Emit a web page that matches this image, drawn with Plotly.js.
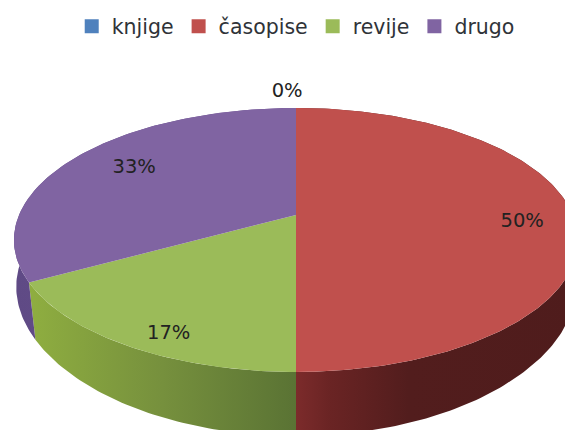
<!DOCTYPE html>
<html>
<head>
<meta charset="utf-8">
<script src="https://cdn.plot.ly/plotly-3.0.1.min.js"></script>
<style>html,body{margin:0;padding:0;background:#fff}</style>
</head>
<body>
<div id="chart" style="width:565px;height:430px"></div>
<script>
var categories = ["knjige", "časopise", "revije", "drugo"];
var values = [0, 50, 17, 33];
var topColors = ["#4F81BD", "#C0504D", "#9BBB59", "#8064A2"];
var sideStops = [
  [[0, "#3a5f8c"], [1, "#3a5f8c"]],
  [[0, "#7c2b2b"], [0.12, "#6a2424"], [0.4, "#521d1d"], [1, "#4f1c1c"]],
  [[0, "#8fae40"], [0.5, "#76903d"], [1, "#5a7334"]],
  [[0, "#5f4a85"], [1, "#6b5390"]]
];
var labelRadius = [1.185, 0.81, 0.885, 0.74];
var labelTurn = [-1.9, 3.8, -4.4, 1.4];

// perspective projection of the tilted pie
var view = {cx: 296, cy: 215, bx: 277, by: 127.3, q: 0.189, depth: 52, floorPinch: 0.05};
function project(r, deg, down) {
  var a = deg * Math.PI / 180, u = r * Math.sin(a), v = -r * Math.cos(a);
  var d = 1 - view.q * v;
  var w = down ? 1 - view.floorPinch * Math.max(v, 0) : 1;
  return [view.cx + w * view.bx * u / d, view.cy + view.by * v / d + (down ? view.depth / d : 0)];
}
var total = values.reduce(function (s, v) { return s + v; }, 0);
var sideTraces = [], topTraces = [], legendTraces = [];
var labelX = [], labelY = [], labelText = [];
var start = 0;
values.forEach(function (val, i) {
  var sweep = val / total * 360, end = start + sweep;
  var mid = start + sweep / 2 + labelTurn[i];
  var lp = project(labelRadius[i], mid, false);
  labelX.push(lp[0]); labelY.push(lp[1]);
  labelText.push(Math.round(val / total * 100) + "%");
  legendTraces.push({
    x: [null], y: [null], type: "scatter", mode: "markers", name: categories[i],
    marker: {symbol: "square", size: 14, color: topColors[i]}, hoverinfo: "skip"
  });
  if (val > 0) {
    var n = Math.ceil(sweep), k, p;
    var tx = [], ty = [], bx = [], by = [];
    for (k = 0; k <= n; k++) {
      p = project(1, start + sweep * k / n, false); tx.push(p[0]); ty.push(p[1]);
      p = project(1, start + sweep * k / n, true); bx.push(p[0]); by.push(p[1]);
    }
    var c = project(0, 0, false);
    // side wall: only the near part is visible, the top faces cover the rest
    sideTraces.push({
      x: tx.concat(bx.slice().reverse()).concat([tx[0]]),
      y: ty.concat(by.slice().reverse()).concat([ty[0]]),
      type: "scatter", mode: "lines", line: {width: 0}, fill: "toself",
      fillgradient: {type: "horizontal", colorscale: sideStops[i]},
      showlegend: false, hoverinfo: "skip"
    });
    topTraces.push({
      x: [c[0]].concat(tx).concat([c[0]]),
      y: [c[1]].concat(ty).concat([c[1]]),
      type: "scatter", mode: "lines", line: {width: 0}, fill: "toself",
      fillcolor: topColors[i], showlegend: false, hoverinfo: "skip"
    });
  }
  start = end;
});
var labelTrace = {
  x: labelX, y: labelY, text: labelText, type: "scatter", mode: "text",
  textposition: "middle center", showlegend: false, hoverinfo: "skip",
  textfont: {family: "DejaVu Sans", size: 19.5, color: "#222222"}, cliponaxis: false
};
Plotly.newPlot("chart", sideTraces.concat(topTraces).concat(legendTraces).concat([labelTrace]), {
  width: 565, height: 430,
  margin: {l: 0, r: 0, t: 0, b: 0},
  paper_bgcolor: "#ffffff", plot_bgcolor: "#ffffff",
  xaxis: {range: [0, 565], visible: false, fixedrange: true},
  yaxis: {range: [430, 0], visible: false, fixedrange: true},
  showlegend: true,
  legend: {
    orientation: "h", x: 0.5234, xanchor: "center", y: 0.985, yanchor: "top",
    font: {family: "DejaVu Sans", size: 20.5, color: "#2f3338"},
    itemclick: false, itemdoubleclick: false, bgcolor: "rgba(0,0,0,0)"
  }
}, {displayModeBar: false, staticPlot: true});
</script>
</body>
</html>
